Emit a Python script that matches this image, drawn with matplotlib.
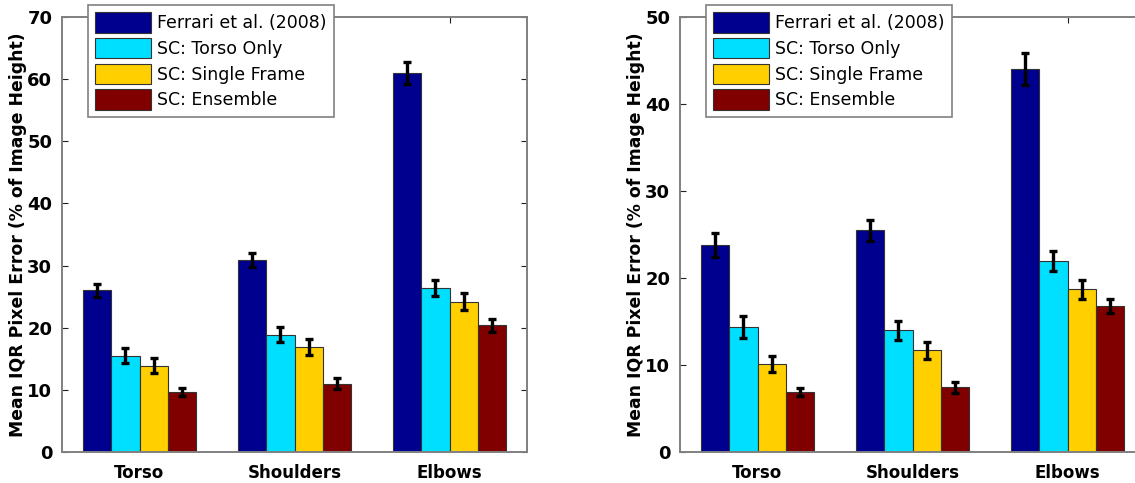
import matplotlib
matplotlib.use("Agg")
import matplotlib.pyplot as plt
import numpy as np

categories = ["Torso", "Shoulders", "Elbows"]
series = ["Ferrari et al. (2008)", "SC: Torso Only", "SC: Single Frame", "SC: Ensemble"]
colors = ["#00008F", "#00DFFF", "#FFCF00", "#800000"]

left_vals = [
    [26.0, 30.9, 61.0],
    [15.5, 18.9, 26.4],
    [13.9, 16.85, 24.2],
    [9.65, 11.0, 20.4],
]
left_errs = [
    [1.0, 1.1, 1.8],
    [1.25, 1.2, 1.3],
    [1.15, 1.3, 1.4],
    [0.7, 0.9, 1.05],
]
right_vals = [
    [23.8, 25.5, 44.0],
    [14.4, 14.0, 21.95],
    [10.15, 11.7, 18.7],
    [6.9, 7.45, 16.8],
]
right_errs = [
    [1.4, 1.2, 1.85],
    [1.25, 1.1, 1.1],
    [0.9, 1.0, 1.1],
    [0.5, 0.65, 0.8],
]

plt.rcParams['font.family'] = ['DejaVu Sans']

W, H = 1135, 483
fig = plt.figure(figsize=(W / 100, H / 100), dpi=100)

def px_axes(x0, x1, y0, y1):
    return fig.add_axes([x0 / W, 1 - y1 / H, (x1 - x0) / W, (y1 - y0) / H])

def draw(ax, vals, errs, ymax, yticks, legend_xy, ylabel_x):
    x = np.arange(1, len(categories) + 1)
    bw = 0.1825
    n = len(series)
    handles = []
    for i in range(n):
        pos = x + (i - (n - 1) / 2) * bw
        b = ax.bar(pos, vals[i], width=bw, color=colors[i], edgecolor="#333333",
                   linewidth=0.8, label=series[i], zorder=2)
        handles.append(b)
        ax.errorbar(pos, vals[i], yerr=errs[i], fmt="none", ecolor="black",
                    elinewidth=2.4, capsize=2.6, capthick=2.4, zorder=3)
    ax.set_xlim(0.5, 3.5)
    ax.set_ylim(0, ymax)
    ax.set_yticks(yticks)
    ax.set_xticks(x)
    ax.set_xticklabels(categories, fontsize=12, fontweight="bold")
    ax.set_yticklabels([str(t) for t in yticks], fontsize=13, fontweight="bold")
    ax.tick_params(direction="in", length=4, width=0.8, top=True, right=True,
                   color="#222222", pad=7)
    ax.tick_params(axis="x", pad=9)
    for s in ax.spines.values():
        s.set_color("#808080")
        s.set_linewidth(1.4)
    ax.set_ylabel("Mean IQR Pixel Error (% of Image Height)", fontsize=12.4,
                  fontweight="bold")
    ax.yaxis.set_label_coords(ylabel_x, 0.5)
    leg = ax.legend(handles=handles, loc="upper left",
                    bbox_to_anchor=(legend_xy[0] / W, 1 - legend_xy[1] / H),
                    bbox_transform=fig.transFigure, fontsize=12.5,
                    handlelength=3.2, handleheight=1.45, labelspacing=0.3,
                    handletextpad=0.4, borderpad=0.4, borderaxespad=0,
                    fancybox=False, framealpha=1, edgecolor="#808080")
    leg.get_frame().set_linewidth(1.2)
    leg.set_zorder(5)

ax1 = px_axes(62, 527, 17, 452)
draw(ax1, left_vals, left_errs, 70, [0, 10, 20, 30, 40, 50, 60, 70], (88, 5),
     (27 - 62) / 465)

ax2 = px_axes(680, 1145, 17, 452)
draw(ax2, right_vals, right_errs, 50, [0, 10, 20, 30, 40, 50], (706, 5),
     (645 - 680) / 465)

fig.savefig("out.png", dpi=100)
